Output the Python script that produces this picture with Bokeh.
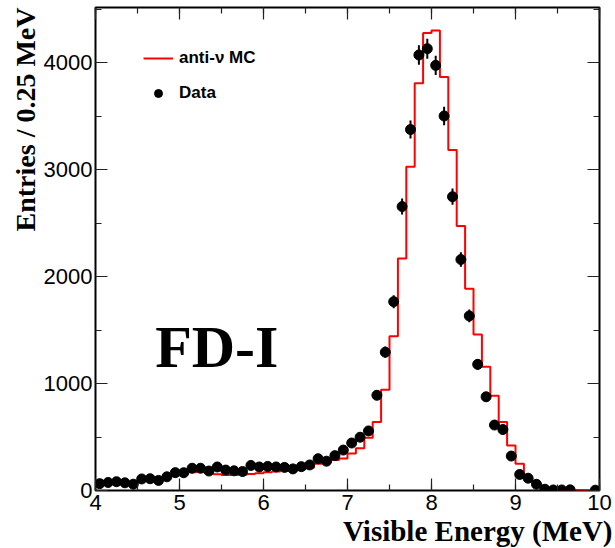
import math
import numpy as np
from bokeh.plotting import figure
from bokeh.models import (Range1d, LinearAxis, SingleIntervalTicker, Label, Title,
                          Legend, LegendItem, ColumnDataSource, CustomJSTickFormatter)
from bokeh.embed import file_html
from bokeh.resources import INLINE

# ---------------- data ----------------
bin_edges = [4.0, 4.1, 4.2, 4.3, 4.4, 4.5, 4.6, 4.7, 4.8, 4.9,
             5.0, 5.1, 5.2, 5.3, 5.4, 5.5, 5.6, 5.7, 5.8, 5.9,
             6.0, 6.1, 6.2, 6.3, 6.4, 6.5, 6.6, 6.7, 6.8, 6.9,
             7.0, 7.1, 7.2, 7.3, 7.4, 7.5, 7.6, 7.7, 7.8, 7.9,
             8.0, 8.1, 8.2, 8.3, 8.4, 8.5, 8.6, 8.7, 8.8, 8.9,
             9.0, 9.1, 9.2, 9.3, 9.4, 9.5, 9.6, 9.7, 9.8, 9.9, 10.0]

mc_counts = [68, 72, 76, 76, 80, 88, 98, 110, 124, 140,
             155, 170, 172, 163, 152, 146, 145, 148, 155, 162,
             170, 178, 184, 190, 198, 212, 250, 262, 285, 300,
             345, 395, 492, 640, 942, 1443, 2169, 3026, 3807, 4276,
             4299, 3866, 3182, 2472, 1886, 1459, 1156, 886, 640, 420,
             250, 115, 60, 28, 14, 10, 6, 4, 3, 2]

nan = float("nan")
data_counts = [64, 75, 82, 72, 59, 108, 110, 94, 128, 167,
               166, 208, 208, 182, 220, 191, 184, 177, 234, 220,
               225, 220, 216, 202, 223, 239, 297, 274, 326, 378,
               444, 498, 557, 890, 1293, 1765, 2654, 3374, 4071, 4130,
               3974, 3501, 2746, 2159, 1632, 1179, 876, 612, 570, 322,
               150, 115, 58, 12, 5, 5, 6, nan, nan, 3]

data_errors = [12, 12, 13, 12, 11, 15, 15, 14, 17, 19,
               19, 21, 21, 20, 22, 20, 20, 19, 23, 22,
               22, 22, 22, 21, 22, 23, 25, 24, 26, 28,
               31, 33, 34, 43, 52, 61, 75, 84, 92, 93,
               91, 86, 76, 67, 59, 50, 43, 36, 35, 26,
               18, 16, 12, 6, 4, 4, 5, nan, nan, 2]

x_ticks_interval = 1
y_ticks_interval = 1000

# ---------------- figure ----------------
W, H = 615, 548
p = figure(width=W, height=H, output_backend="svg", toolbar_location=None,
           x_range=Range1d(4, 10), y_range=Range1d(0, 4515),
           x_axis_type=None, y_axis_type=None,
           min_border_left=95, min_border_right=16,
           min_border_top=7, min_border_bottom=58)
p.xgrid.visible = False
p.ygrid.visible = False
p.outline_line_color = "black"
p.outline_line_width = 2
p.background_fill_color = "white"
p.border_fill_color = "white"


def make_axis(ticker, show_labels, standoff=3):
    ax = LinearAxis(ticker=ticker)
    ax.axis_line_color = None
    ax.major_tick_in = 12
    ax.major_tick_out = 0
    ax.minor_tick_in = 6
    ax.minor_tick_out = 0
    ax.major_tick_line_color = "#222222"
    ax.minor_tick_line_color = "#222222"
    ax.major_tick_line_width = 1.2
    ax.minor_tick_line_width = 1.2
    if show_labels:
        ax.major_label_text_font = "Liberation Sans"
        ax.major_label_text_font_size = "22px"
        ax.major_label_text_color = "black"
        ax.major_label_standoff = standoff
    else:
        ax.formatter = CustomJSTickFormatter(code="return ''")
        ax.major_label_standoff = 0
    return ax


xt = SingleIntervalTicker(interval=x_ticks_interval, num_minor_ticks=2)
yt = SingleIntervalTicker(interval=y_ticks_interval, num_minor_ticks=2)

p.add_layout(make_axis(xt, True, 4), "below")
p.add_layout(make_axis(yt, True, 3), "left")
p.add_layout(make_axis(xt, False), "above")
p.add_layout(make_axis(yt, False), "right")

# axis titles (ROOT style: right-aligned)
p.add_layout(Title(text="Visible Energy (MeV)", align="right", text_font="Liberation Serif",
                   text_font_style="bold", text_font_size="29px", text_color="black",
                   standoff=0, offset=-13), "below")
p.add_layout(Title(text="Entries / 0.25 MeV", align="right", text_font="Liberation Serif",
                   text_font_style="bold", text_font_size="28px", text_color="black",
                   standoff=0), "left")

# ---------------- MC histogram ----------------
step_x = list(bin_edges)
step_y = list(mc_counts) + [mc_counts[-1]]
mc_r = p.step(x=step_x, y=step_y, mode="after", line_color="#ff0000", line_width=2)

# ---------------- data points ----------------
centers = [(bin_edges[i] + bin_edges[i + 1]) / 2 for i in range(len(bin_edges) - 1)]
vals = np.array(data_counts, dtype=float)
errs = np.array(data_errors, dtype=float)
src = ColumnDataSource(dict(x=centers, y=vals, lo=vals - errs, hi=vals + errs))
p.segment(x0="x", y0="lo", x1="x", y1="hi", source=src, line_color="black", line_width=2)
pts_r = p.scatter(x="x", y="y", source=src, size=10, fill_color="black", line_color="black")

# ---------------- legend ----------------
legend = Legend(items=[LegendItem(label="anti-\u03bd MC", renderers=[mc_r]),
                       LegendItem(label="Data", renderers=[pts_r])],
                location=(48, 387))
legend.border_line_color = None
legend.background_fill_alpha = 0
legend.padding = 0
legend.margin = 0
legend.spacing = 15
legend.glyph_width = 30
legend.glyph_height = 20
legend.label_height = 20
legend.label_standoff = 6
legend.label_text_font = "Liberation Sans"
legend.label_text_font_size = "17px"
legend.label_text_font_style = "bold"
legend.label_text_color = "black"
p.add_layout(legend)

# ---------------- big tag ----------------
p.add_layout(Label(x=4.71, y=1346, text="FD-I", text_font="Liberation Serif",
                   text_font_style="bold", text_font_size="60px",
                   text_color="black", text_baseline="middle"))

open("out.html", "w").write(file_html(p, INLINE))
